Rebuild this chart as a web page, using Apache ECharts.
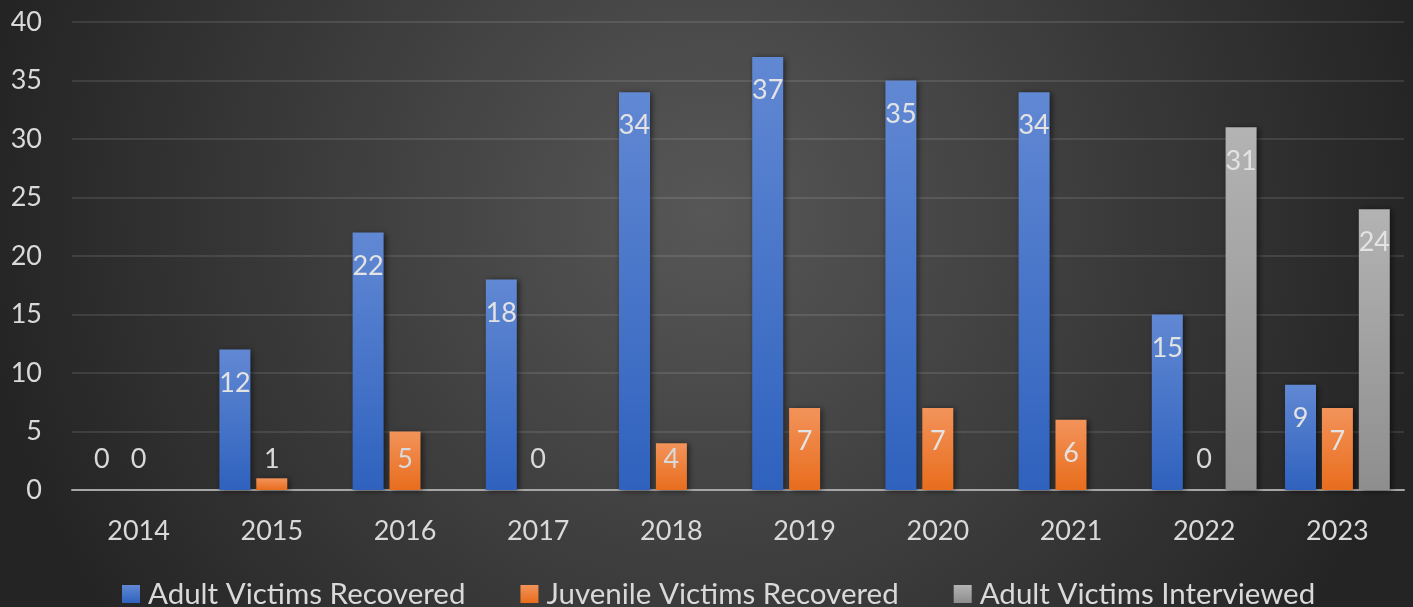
<!DOCTYPE html>
<html>
<head>
<meta charset="utf-8">
<style>
  html, body { margin: 0; padding: 0; background: #2a2a2a; }
  #chart { width: 1413px; height: 607px; }
</style>
</head>
<body>
<div id="chart"></div>
<script src="https://cdn.jsdelivr.net/npm/echarts@6/dist/echarts.min.js"></script>
<script>
  var years = ['2014', '2015', '2016', '2017', '2018', '2019', '2020', '2021', '2022', '2023'];
  var adultRecovered = [0, 12, 22, 18, 34, 37, 35, 34, 15, 9];
  var juvenileRecovered = [0, 1, 5, 0, 4, 7, 7, 6, 0, 7];
  var adultInterviewed = [null, null, null, null, null, null, null, null, 31, 24];
  var yTicks = [0, 5, 10, 15, 20, 25, 30, 35, 40];

  var font = 'Lato';

  function grad(top, bottom) {
    return new echarts.graphic.LinearGradient(0, 0, 0, 1, [
      { offset: 0, color: top },
      { offset: 1, color: bottom }
    ]);
  }

  // labels sit inside the bar end, but never lower than a fixed spot over the axis
  function withLabels(values) {
    return values.map(function (v) {
      if (v === null) return null;
      if (v < 6) {
        return { value: v, label: { position: 'insideBottom', distance: 17, color: '#d9d9d9' } };
      }
      return v;
    });
  }

  function barSeries(name, values, top, bottom) {
    return {
      name: name,
      type: 'bar',
      barWidth: 31,
      barGap: '19%',
      data: withLabels(values),
      itemStyle: {
        color: grad(top, bottom),
        shadowColor: 'rgba(0,0,0,0.55)',
        shadowBlur: 6,
        shadowOffsetX: 2,
        shadowOffsetY: 1
      },
      label: {
        show: true,
        position: 'insideTop',
        distance: 20,
        color: '#e3e3e3',
        fontFamily: font,
        fontSize: 27,
        lineHeight: 27
      },
      legendIcon: 'rect'
    };
  }

  var chart = echarts.init(document.getElementById('chart'));
  chart.setOption({
    animation: false,
    backgroundColor: {
      type: 'radial', x: 0.5, y: 0.35, r: 1.2,
      colorStops: [
        { offset: 0, color: '#575757' },
        { offset: 1, color: '#242424' }
      ]
    },
    grid: { left: 72, right: 9, top: 22, bottom: 117 },
    legend: {
      top: 579,
      left: 122,
      padding: 0,
      icon: 'rect',
      itemWidth: 18,
      itemHeight: 18,
      itemGap: 55,
      textStyle: { color: '#d9d9d9', fontFamily: font, fontSize: 29.5, lineHeight: 29, padding: [0, 0, 0, 3] },
      data: ['Adult Victims Recovered', 'Juvenile Victims Recovered', 'Adult Victims Interviewed']
    },
    xAxis: {
      type: 'category',
      data: years,
      axisLine: { lineStyle: { color: '#a6a6a6', width: 2 } },
      axisTick: { show: false },
      axisLabel: { color: '#d9d9d9', fontFamily: font, fontSize: 27, margin: 28 }
    },
    yAxis: {
      type: 'value',
      min: yTicks[0],
      max: yTicks[yTicks.length - 1],
      interval: yTicks[1] - yTicks[0],
      axisLine: { show: false },
      axisTick: { show: false },
      axisLabel: { color: '#d9d9d9', fontFamily: font, fontSize: 27, margin: 30 },
      splitLine: { lineStyle: { color: 'rgba(255,255,255,0.1)', width: 2 } }
    },
    series: [
      barSeries('Adult Victims Recovered', adultRecovered, '#6188d3', '#2f62be'),
      barSeries('Juvenile Victims Recovered', juvenileRecovered, '#f3935a', '#e86d1d'),
      barSeries('Adult Victims Interviewed', adultInterviewed, '#b3b3b3', '#8e8e8e')
    ]
  });
</script>
</body>
</html>
